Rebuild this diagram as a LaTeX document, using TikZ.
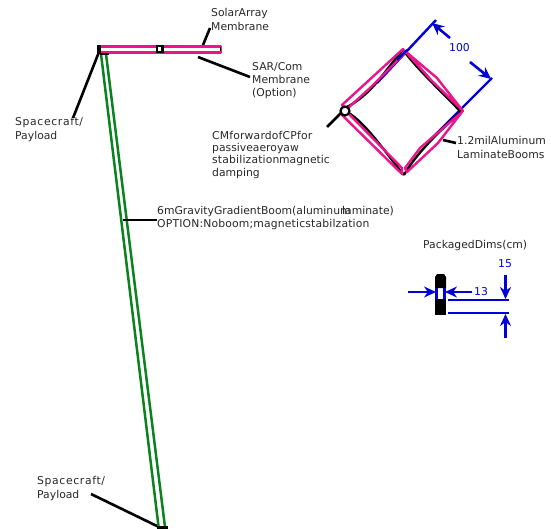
\documentclass[tikz,border=0pt]{standalone}
\usepackage{fontspec}
\setmainfont{DejaVu Sans}
\usetikzlibrary{arrows.meta}
\definecolor{pinkm}{RGB}{235,20,140}
\definecolor{greenb}{RGB}{10,130,30}
\definecolor{blued}{RGB}{0,0,215}
\definecolor{txt}{RGB}{40,40,40}
\newfontfamily\widefont[LetterSpace=6]{DejaVu Sans}
\newfontfamily\slightfont[LetterSpace=1.5]{DejaVu Sans}
\tikzset{
 lab/.style={anchor=base west,inner sep=0pt,font=\fontsize{10.8}{12}\selectfont,text=txt},
 widelab/.style={lab,font=\widefont\fontsize{10.8}{12}\selectfont},
 slightlab/.style={lab,font=\slightfont\fontsize{10.8}{12}\selectfont},
 bluelab/.style={anchor=base,inner sep=0pt,font=\fontsize{10.8}{12}\selectfont,text=blued},
 leader/.style={draw=black,line width=2.6pt},
 pinkline/.style={draw=pinkm,line width=2.4pt,fill=white,line join=round},
 greenline/.style={draw=greenb,line width=2.5pt},
 blueline/.style={draw=blued,line width=2.4pt},
 bluearrow/.style={draw=blued,line width=2.6pt,-{Stealth[length=12pt,width=11pt]}},
}
\begin{document}
\begin{tikzpicture}[x=1pt,y=-1pt]
\useasboundingbox (0,0) rectangle (551,529);
% text
\node[lab] (t1) at (211,17) {SolarArray};
\node[lab] (t2) at (211,31) {Membrane};
\node[lab] (t3) at (252,71) {SAR/Com};
\node[lab] (t4) at (252,84) {Membrane};
\node[lab] (t5) at (252,96.5) {(Option)};
\node[widelab] (t6) at (15,125.5) {Spacecraft/};
\node[lab] (t7) at (15,139.5) {Payload};
\node[slightlab] (t8) at (212,139.5) {CMforwardofCPfor};
\node[lab] (t9) at (212,151.5) {passiveaeroyaw};
\node[slightlab] (t10) at (212,164) {stabilization};
\node[lab] (t10b) at (279,164) {magnetic};
\node[lab] (t11) at (212,176.5) {damping};
\node[lab] (t12) at (457,145) {1.2milAluminum};
\node[lab] (t13) at (457,159) {LaminateBooms};
\node[lab] (t14) at (157,214.5) {6mGravityGradientBoom(aluminum};
\node[lab] (t14b) at (342,214.5) {laminate)};
\node[slightlab] (t15) at (157,227.5) {OPTION:Noboom;magneticstabilzation};
\node[lab] (t16) at (423,248) {PackagedDims(cm)};
\node[widelab] (t17) at (37,484) {Spacecraft/};
\node[lab] (t18) at (37,498) {Payload};
\node[bluelab] (d100) at (459.5,51.5) {100};
\node[bluelab] (d15) at (505,267.5) {15};
\node[bluelab] (d13) at (481,295) {13};
% coordinates
\coordinate (sc1) at (99,52); \coordinate (sc1l) at (73,118);
\coordinate (sol) at (203,45); \coordinate (soll) at (210,28);
\coordinate (sar) at (198,57); \coordinate (sarl) at (250,77);
\coordinate (bm) at (123,220); \coordinate (bml) at (157,220);
\coordinate (sc2) at (159,527); \coordinate (sc2l) at (91,494);
\coordinate (cm) at (341,113); \coordinate (cml) at (327,127);
\coordinate (lam) at (443,140); \coordinate (laml) at (456,143);
% leaders
\draw[leader] (sc1) -- (sc1l);
\draw[leader] (sol) -- (soll);
\draw[leader] (sar) -- (sarl);
\draw[leader] (sc2) -- (sc2l);
\draw[leader] (cm) -- (cml);
\draw[leader] (lam) -- (laml);
% booms
\draw[greenline] (101,54) -- (158.6,527);
\draw[greenline] (106,54) -- (165,527);
\draw[leader] (bm) -- (bml);
% membrane
\draw[pinkline] (100,46.5) rectangle (221,52.5);
\fill[black] (96.5,45) rectangle (100.5,54);
\fill[black] (100,53) rectangle (109,55);
\fill[black] (219.5,47) rectangle (221,51);
\fill[black] (156,45) rectangle (164,53.5);
\fill[white] (158,47.5) rectangle (161,51);
% bottom block
\fill[black] (157,526) rectangle (168,529);
% blue dims of diamond
\draw[blueline] (436,20) -- (377,83);
\draw[blueline] (492,78) -- (430,140);
% diamond black curves
\draw[black,line width=2.4pt] (345,108) .. controls (372,95) and (385,70) .. (403,50);
\draw[black,line width=2.4pt] (403,50) .. controls (420,72) and (440,90) .. (461,112);
\draw[black,line width=2.4pt] (347,112) .. controls (365,122) and (385,152) .. (404,175);
\draw[black,line width=2.4pt] (404,175) .. controls (415,155) and (440,130) .. (461,112);
% diamond pink arms
\draw[pinkline,fill=none] (342,105) -- (403,49) -- (405,53) -- (370,88) -- (347,109) -- cycle;
\draw[pinkline,fill=none] (405,51) -- (437,78) -- (463,111) -- (432,81) -- cycle;
\draw[pinkline,fill=none] (405,168) -- (420,148) -- (462,112) -- (438,143) -- (407,172) -- cycle;
\draw[pinkline,fill=none] (342,115) -- (402,174) -- (402,168) -- (347,112) -- cycle;
\draw[blueline] (407,50) -- (397,60);
\draw[black,line width=2.2pt,fill=white] (345,111) circle (4.5);
% arrows of 100
\draw[bluearrow] (450,38) -- (432,23);
\draw[bluearrow] (470,62) -- (491,79);
% packaged
\fill[black] (435,277) -- (437,274) -- (444,274) -- (446,277) -- (446,288) -- (435,288) -- cycle;
\fill[black] (435,299) rectangle (446,315);
\draw[blueline] (436.5,288) -- (436.5,299);
\draw[blueline] (444.5,288) -- (444.5,299);
\draw[blueline] (448,300) -- (509,300);
\draw[blueline] (448,313) -- (509,313);
\draw[bluearrow] (408,292) -- (436,292);
\draw[bluearrow] (472,292) -- (445,292);
\draw[bluearrow] (505.5,275) -- (505.5,299);
\draw[bluearrow] (505.5,338) -- (505.5,314);
\end{tikzpicture}
\end{document}
